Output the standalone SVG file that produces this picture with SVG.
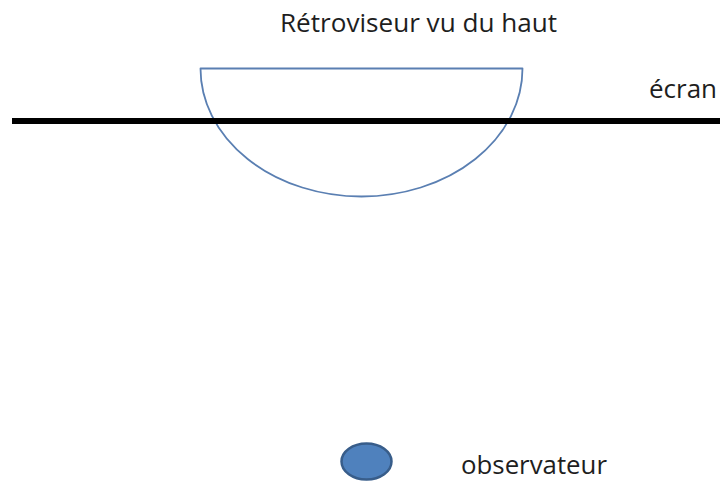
<svg xmlns="http://www.w3.org/2000/svg" width="720" height="481" viewBox="0 0 720 481">
<style>
text{font-family:"Open Sans","Liberation Sans",sans-serif;font-size:26px;fill:#1e1e1e}
</style>
<rect width="720" height="481" fill="#fff"/>
<g id="mirror">
<path d="M200.5,68.5 L522.5,68.5 A161,128 0 0 1 200.5,68.5 Z" fill="none" stroke="#5a7fb2" stroke-width="1.8" stroke-linejoin="round"/>
</g>
<g id="screen">
<line x1="12" y1="121" x2="720" y2="121" stroke="#000" stroke-width="6"/>
<text x="649" y="98" textLength="68" lengthAdjust="spacingAndGlyphs">écran</text>
</g>
<g id="title">
<text x="280" y="32" textLength="277" lengthAdjust="spacingAndGlyphs">Rétroviseur vu du haut</text>
</g>
<g id="observer">
<ellipse cx="366.5" cy="461.5" rx="25" ry="18" fill="#4f81bd" stroke="#385d8a" stroke-width="2.5"/>
<text x="461" y="474" style="font-size:25px" textLength="146" lengthAdjust="spacingAndGlyphs">observateur</text>
</g>
<g id="connectors"/>
</svg>
